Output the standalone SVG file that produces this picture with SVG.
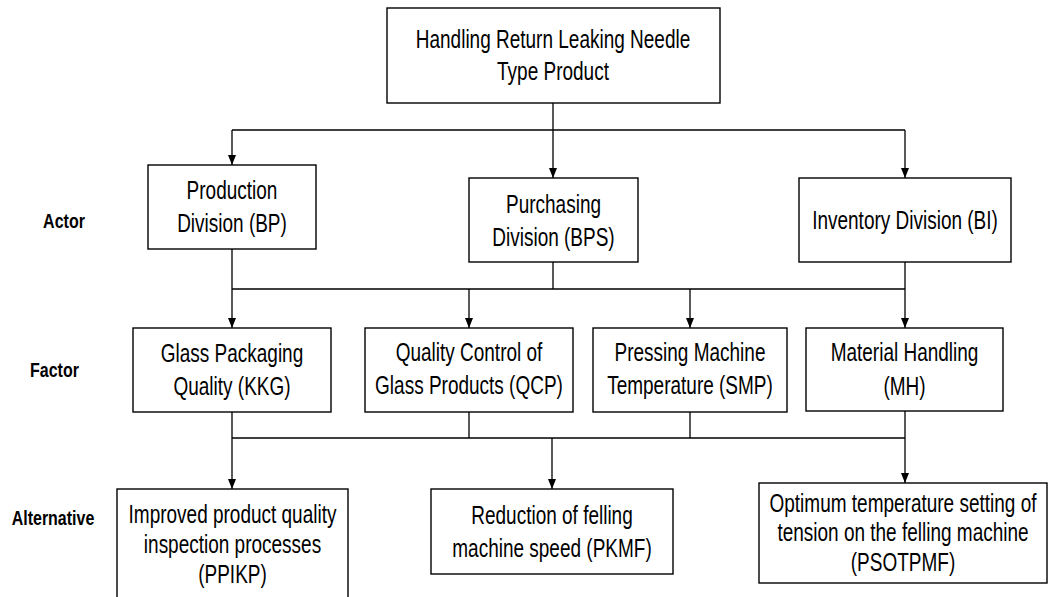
<svg xmlns="http://www.w3.org/2000/svg" width="1051" height="597" viewBox="0 0 1051 597">
<style>
.box{fill:#fff;stroke:#000;stroke-width:1.4}
.t{font-family:"Liberation Sans",Arial,sans-serif;font-size:25px;fill:#000;text-anchor:middle}
.lbl{font-family:"Liberation Sans",Arial,sans-serif;font-size:19.5px;font-weight:bold;fill:#000;text-anchor:middle}
.c{fill:none;stroke:#000;stroke-width:1.3}
</style>
<defs>
<marker id="ah" markerUnits="userSpaceOnUse" markerWidth="10" markerHeight="8" refX="10" refY="4" orient="auto">
<path d="M0,0 L10,4 L0,8 z" fill="#000"/>
</marker>
</defs>
<rect width="1051" height="597" fill="#fff"/>

<g id="labels">
<text class="lbl" transform="translate(64 0) scale(0.82 1)" x="0" y="228">Actor</text>
<text class="lbl" transform="translate(54.5 0) scale(0.82 1)" x="0" y="377">Factor</text>
<text class="lbl" transform="translate(53 0) scale(0.82 1)" x="0" y="525">Alternative</text>
</g>

<g id="connectors">
<path class="c" d="M553,103 V130 M232,130 H905"/>
<path class="c" d="M232,130 V165" marker-end="url(#ah)"/>
<path class="c" d="M553,130 V178" marker-end="url(#ah)"/>
<path class="c" d="M905,130 V178" marker-end="url(#ah)"/>
<path class="c" d="M232,249 V289 M553,262 V289 M905,262 V289 M232,289 H905"/>
<path class="c" d="M232,289 V328" marker-end="url(#ah)"/>
<path class="c" d="M469,289 V328" marker-end="url(#ah)"/>
<path class="c" d="M690,289 V328" marker-end="url(#ah)"/>
<path class="c" d="M905,289 V328" marker-end="url(#ah)"/>
<path class="c" d="M232,412 V438 M469,412 V438 M690,412 V438 M905,411 V438 M232,438 H905"/>
<path class="c" d="M232,438 V489" marker-end="url(#ah)"/>
<path class="c" d="M552,438 V489" marker-end="url(#ah)"/>
<path class="c" d="M905,438 V483" marker-end="url(#ah)"/>
</g>

<g id="goal">
<rect class="box" x="387" y="8" width="333" height="95"/>
<text class="t" transform="translate(553 0) scale(0.76 1)"><tspan x="0" y="48">Handling Return Leaking Needle</tspan><tspan x="0" y="80">Type Product</tspan></text>
</g>

<g id="bp">
<rect class="box" x="148" y="165" width="168" height="84"/>
<text class="t" transform="translate(232 0) scale(0.76 1)"><tspan x="0" y="199">Production</tspan><tspan x="0" y="232">Division (BP)</tspan></text>
</g>
<g id="bps">
<rect class="box" x="469" y="178" width="169" height="84"/>
<text class="t" transform="translate(553.5 0) scale(0.76 1)"><tspan x="0" y="213">Purchasing</tspan><tspan x="0" y="246">Division (BPS)</tspan></text>
</g>
<g id="bi">
<rect class="box" x="799" y="178" width="212" height="84"/>
<text class="t" transform="translate(905 0) scale(0.76 1)"><tspan x="0" y="229">Inventory Division (BI)</tspan></text>
</g>

<g id="kkg">
<rect class="box" x="133" y="328" width="198" height="84"/>
<text class="t" transform="translate(232 0) scale(0.76 1)"><tspan x="0" y="362">Glass Packaging</tspan><tspan x="0" y="395">Quality (KKG)</tspan></text>
</g>
<g id="qcp">
<rect class="box" x="365" y="328" width="208" height="84"/>
<text class="t" transform="translate(469 0) scale(0.76 1)"><tspan x="0" y="361">Quality Control of</tspan><tspan x="0" y="394">Glass Products (QCP)</tspan></text>
</g>
<g id="smp">
<rect class="box" x="593" y="328" width="194" height="84"/>
<text class="t" transform="translate(690 0) scale(0.76 1)"><tspan x="0" y="361">Pressing Machine</tspan><tspan x="0" y="394">Temperature (SMP)</tspan></text>
</g>
<g id="mh">
<rect class="box" x="806" y="328" width="197" height="83"/>
<text class="t" transform="translate(904.5 0) scale(0.76 1)"><tspan x="0" y="361">Material Handling</tspan><tspan x="0" y="395">(MH)</tspan></text>
</g>

<g id="ppikp">
<rect class="box" x="117" y="489" width="231" height="120"/>
<text class="t" transform="translate(232.5 0) scale(0.76 1)"><tspan x="0" y="523">Improved product quality</tspan><tspan x="0" y="553">inspection processes</tspan><tspan x="0" y="583">(PPIKP)</tspan></text>
</g>
<g id="pkmf">
<rect class="box" x="431" y="489" width="242" height="85"/>
<text class="t" transform="translate(552 0) scale(0.76 1)"><tspan x="0" y="524">Reduction of felling</tspan><tspan x="0" y="557">machine speed (PKMF)</tspan></text>
</g>
<g id="psotpmf">
<rect class="box" x="759" y="483" width="288" height="100"/>
<text class="t" transform="translate(903 0) scale(0.76 1)"><tspan x="0" y="512">Optimum temperature setting of</tspan><tspan x="0" y="541.5">tension on the felling machine</tspan><tspan x="0" y="571">(PSOTPMF)</tspan></text>
</g>
</svg>
